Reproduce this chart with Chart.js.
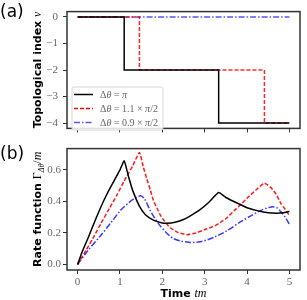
<!DOCTYPE html>
<html><head><meta charset="utf-8">
<script src="https://cdn.jsdelivr.net/npm/chart.js@4.4.0/dist/chart.umd.min.js"></script>
<style>
html,body{margin:0;padding:0;background:#fff;}
#wrap{position:relative;width:307px;height:300px;overflow:hidden;}
canvas{position:absolute;left:0;}
</style></head>
<body><div id="wrap">
<canvas id="ca" width="307" height="140" style="top:0;width:307px;height:140px"></canvas>
<canvas id="cb" width="307" height="160" style="top:140px;width:307px;height:160px"></canvas>
</div>
<script>
// ---- data ----
const xTicks = [0, 1, 2, 3, 4, 5];
const nuTicks = [0, -1, -2, -3, -4];
const rateTicks = [0, 0.2, 0.4, 0.6];

// topological index (value holds until next point)
const nuPi   = [[0, 0], [1.10, -2], [3.33, -4], [5, -4]];
const nu11   = [[0, 0], [1.46, -2], [4.41, -4], [5, -4]];
const nu09   = [[0, 0], [5, 0]];

// rate function
const ratePi = [[0,0],[0.1,0.075],[0.25,0.17],[0.4,0.27],[0.55,0.365],[0.7,0.45],[0.86,0.53],[1.0,0.6],[1.1,0.657],
  [1.2,0.56],[1.3,0.47],[1.45,0.375],[1.6,0.315],[1.8,0.28],[2.0,0.263],[2.1,0.261],[2.3,0.268],[2.5,0.285],[2.7,0.315],
  [2.9,0.35],[3.1,0.395],[3.33,0.456],[3.5,0.425],[3.8,0.385],[4.0,0.36],[4.26,0.34],[4.5,0.328],[4.7,0.325],[4.85,0.328],[5.0,0.337]];
const rate11 = [[0,0],[0.2,0.09],[0.4,0.185],[0.55,0.26],[0.75,0.355],[0.94,0.446],[1.1,0.53],[1.3,0.625],[1.46,0.71],
  [1.55,0.62],[1.63,0.546],[1.72,0.47],[1.79,0.405],[1.87,0.36],[1.95,0.315],[2.05,0.275],[2.18,0.235],[2.35,0.205],[2.57,0.189],
  [2.8,0.2],[3.04,0.225],[3.24,0.245],[3.36,0.265],[3.5,0.29],[3.71,0.345],[3.87,0.385],[4.02,0.426],[4.2,0.47],[4.41,0.516],
  [4.57,0.486],[4.7,0.44],[4.8,0.386],[4.9,0.35],[5.0,0.31]];
const rate09 = [[0,0],[0.23,0.084],[0.55,0.185],[0.8,0.27],[1.02,0.345],[1.2,0.39],[1.35,0.42],[1.49,0.436],[1.58,0.415],
  [1.71,0.345],[1.83,0.29],[1.95,0.245],[2.1,0.2],[2.26,0.165],[2.45,0.148],[2.65,0.14],[2.85,0.143],[3.05,0.155],[3.24,0.175],
  [3.5,0.21],[3.87,0.275],[4.1,0.31],[4.34,0.345],[4.5,0.36],[4.61,0.366],[4.7,0.36],[4.8,0.335],[4.9,0.3],[5.0,0.255]];

const SERIF = '"Liberation Serif", "DejaVu Serif", serif';
const SANS = '"DejaVu Sans", sans-serif';
const pts = a => a.map(p => ({x: p[0], y: p[1]}));
const fmt = v => String(v).replace('-', '\u2212');

function drawSegs(ctx, segs, x, y, align) {
  let w = 0;
  segs.forEach(s => { ctx.font = s.f; w += ctx.measureText(s.t).width; });
  let cx = align === 'center' ? x - w / 2 : x;
  ctx.textAlign = 'left'; ctx.textBaseline = 'alphabetic';
  segs.forEach(s => { ctx.font = s.f; ctx.fillStyle = s.c || '#000'; ctx.fillText(s.t, cx, y + (s.dy || 0)); cx += ctx.measureText(s.t).width; });
}

const framePlugin = {
  id: 'frame',
  afterDraw(chart, args, o) {
    const {ctx, chartArea: a} = chart;
    ctx.save();
    ctx.strokeStyle = '#333'; ctx.lineWidth = 1.5;
    ctx.strokeRect(a.left, a.top, a.right - a.left, a.bottom - a.top);
    ctx.font = '17px ' + SANS; ctx.fillStyle = '#000'; ctx.textAlign = 'left'; ctx.textBaseline = 'alphabetic';
    ctx.fillText(o.panel, 0, o.panelY);
    ctx.translate(o.titleX, (a.top + a.bottom) / 2);
    ctx.rotate(-Math.PI / 2);
    drawSegs(ctx, o.ytitle, 0, 0, 'center');
    ctx.restore();
    if (o.xtitle) {
      ctx.save();
      drawSegs(ctx, o.xtitle, (a.left + a.right) / 2, o.xtitleY, 'center');
      ctx.restore();
    }
    if (o.legend) {
      ctx.save();
      const L = o.legend;
      const bx = a.left + 5, by = 87, bw = 91, bh = 43;
      ctx.beginPath();
      if (ctx.roundRect) ctx.roundRect(bx, by, bw, bh, 2); else ctx.rect(bx, by, bw, bh);
      ctx.fillStyle = 'rgba(255,255,255,0.85)'; ctx.fill();
      ctx.strokeStyle = '#d6d6d6'; ctx.lineWidth = 1; ctx.stroke();
      L.forEach((it, i) => {
        const ly = by + 7.5 + i * 14;
        ctx.save();
        ctx.strokeStyle = it.color; ctx.lineWidth = 1.5; ctx.setLineDash(it.dash);
        ctx.beginPath(); ctx.moveTo(bx + 2, ly); ctx.lineTo(bx + 21, ly); ctx.stroke();
        ctx.restore();
        drawSegs(ctx, it.segs, bx + 28, ly + 3.5, 'left');
      });
      ctx.restore();
    }
  }
};

function scaleX(showLabels, h) {
  return {
    type: 'linear', min: -0.25, max: 5.25,
    afterBuildTicks: s => { s.ticks = xTicks.map(v => ({value: v})); },
    afterFit: s => { s.height = h; },
    grid: {drawOnChartArea: false, drawTicks: true, tickLength: 4, color: '#333', tickColor: '#333', lineWidth: 1},
    border: {display: false},
    ticks: {display: showLabels, padding: 2, color: '#666', font: {family: SERIF, size: 11}, maxRotation: 0, callback: v => fmt(v)}
  };
}

const gTxt = '#666';
const legSeg = (rest) => [
  {t: '\u0394', f: '10px ' + SERIF, c: gTxt},
  {t: '\u03b8', f: 'italic 10px ' + SERIF, c: gTxt},
  {t: ' = ', f: '10px ' + SERIF, c: gTxt}
].concat(rest);

new Chart(document.getElementById('ca'), {
  type: 'line',
  data: {datasets: [
    {data: pts(nuPi), borderColor: '#000', borderWidth: 1.5, stepped: 'before', pointRadius: 0},
    {data: pts(nu11), borderColor: 'rgba(255,0,0,0.85)', borderWidth: 1.5, borderDash: [4, 2], stepped: 'before', pointRadius: 0},
    {data: pts(nu09), borderColor: 'rgba(40,40,255,0.8)', borderWidth: 1.5, borderDash: [6, 2, 1.5, 2], stepped: 'before', pointRadius: 0}
  ]},
  options: {
    responsive: false, animation: false, events: [],
    layout: {padding: {left: 0, right: 7, top: 5, bottom: 0}},
    plugins: {legend: {display: false}, tooltip: {enabled: false},
      frame: {panel: '(a)', panelY: 17, titleX: 41,
        ytitle: [{t: 'Topological index ', f: 'bold 11px ' + SANS}, {t: '\u03bd', f: 'italic 12px ' + SERIF}],
        legend: [
          {color: '#000', dash: [], segs: legSeg([{t: '\u03c0', f: 'italic 10px ' + SERIF, c: gTxt}])},
          {color: 'red', dash: [4, 2], segs: legSeg([{t: '1.1 \u00d7 ', f: '10px ' + SERIF, c: gTxt}, {t: '\u03c0', f: 'italic 10px ' + SERIF, c: gTxt}, {t: '/2', f: '10px ' + SERIF, c: gTxt}])},
          {color: 'rgba(40,40,255,0.8)', dash: [6, 2, 1.5, 2], segs: legSeg([{t: '0.9 \u00d7 ', f: '10px ' + SERIF, c: gTxt}, {t: '\u03c0', f: 'italic 10px ' + SERIF, c: gTxt}, {t: '/2', f: '10px ' + SERIF, c: gTxt}])}
        ]}},
    scales: {
      x: scaleX(false, 6),
      y: {type: 'linear', min: -4.2, max: 0.2,
        afterBuildTicks: s => { s.ticks = nuTicks.map(v => ({value: v})); },
        afterFit: s => { s.width = 67; },
        grid: {drawOnChartArea: false, drawTicks: true, tickLength: 4, color: '#333', lineWidth: 1},
        border: {display: false},
        ticks: {padding: 5, color: '#666', font: {family: SERIF, size: 11}, callback: v => fmt(v)}}
    }
  },
  plugins: [framePlugin]
});

new Chart(document.getElementById('cb'), {
  type: 'line',
  data: {datasets: [
    {data: pts(ratePi), borderColor: '#000', borderWidth: 1.5, tension: 0.15, pointRadius: 0},
    {data: pts(rate11), borderColor: 'rgba(255,0,0,0.9)', borderWidth: 1.5, borderDash: [4, 2], tension: 0.15, pointRadius: 0},
    {data: pts(rate09), borderColor: 'rgba(20,20,255,0.85)', borderWidth: 1.5, borderDash: [6, 2, 1.5, 2], tension: 0.3, pointRadius: 0}
  ]},
  options: {
    responsive: false, animation: false, events: [],
    layout: {padding: {left: 0, right: 7, top: 2, bottom: 0}},
    plugins: {legend: {display: false}, tooltip: {enabled: false},
      frame: {panel: '(b)', panelY: 19, titleX: 41,
        ytitle: [{t: 'Rate function ', f: 'bold 11px ' + SANS}, {t: '\u0393', f: '12px ' + SERIF},
          {t: '\u0394\u03b8', f: 'italic 8px ' + SERIF, dy: 2.5}, {t: '/', f: '12px ' + SERIF}, {t: 'm', f: 'italic 12px ' + SERIF}],
        xtitle: [{t: 'Time ', f: 'bold 11px ' + SANS}, {t: 'tm', f: 'italic 12px ' + SERIF}],
        xtitleY: 157}},
    scales: {
      x: scaleX(true, 30),
      y: {type: 'linear', min: -0.035, max: 0.735,
        afterBuildTicks: s => { s.ticks = rateTicks.map(v => ({value: v})); },
        afterFit: s => { s.width = 67; },
        grid: {drawOnChartArea: false, drawTicks: true, tickLength: 4, color: '#333', lineWidth: 1},
        border: {display: false},
        ticks: {padding: 2, color: '#666', font: {family: SERIF, size: 11}, callback: v => Number(v).toFixed(1)}}
    }
  },
  plugins: [framePlugin]
});
</script></body></html>
